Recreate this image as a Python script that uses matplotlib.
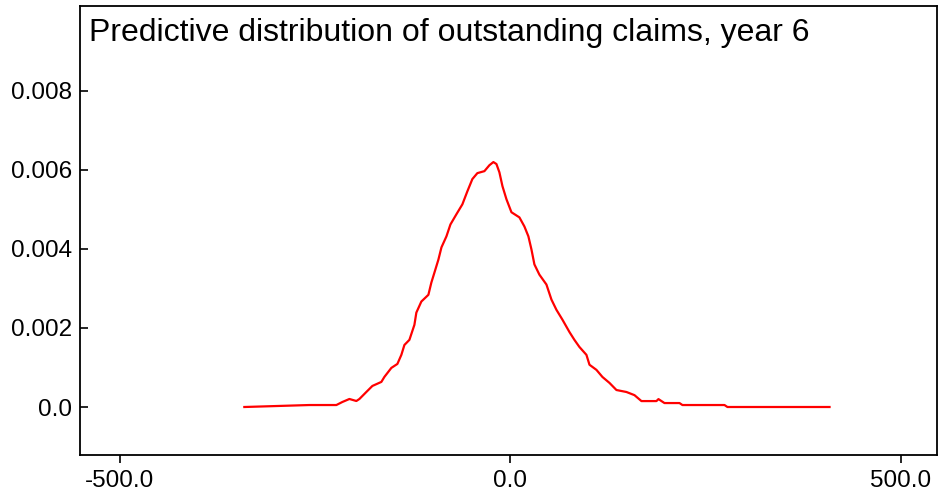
import matplotlib
matplotlib.use("Agg")
import matplotlib.pyplot as plt
from matplotlib.ticker import FixedLocator, FixedFormatter

plt.rcParams["font.family"] = ["Liberation Sans", "DejaVu Sans"]

# predictive density of outstanding claims, year 6
claims = [-340.6, -257.4, -222.8, -215.1, -206.1, -197.2, -193.3, -184.4, -176.7, -165.2,
          -161.3, -152.4, -144.7, -139.6, -135.7, -129.3, -122.9, -120.4, -114.0, -105.0,
          -101.2, -97.3, -92.2, -88.3, -81.9, -76.8, -69.1, -61.5, -55.1, -48.7,
          -42.3, -33.3, -26.9, -21.8, -17.9, -14.1, -10.2, -5.1, 1.3, 11.5,
          17.9, 23.0, 26.9, 30.7, 37.1, 46.1, 52.5, 58.9, 66.6, 75.5,
          81.9, 88.3, 97.3, 101.2, 110.1, 117.8, 126.8, 135.7, 148.5, 158.8,
          167.7, 186.9, 189.5, 197.2, 216.4, 220.2, 274.0, 277.8, 408.5]
density = [0.0, 0.00005, 0.00005, 0.000127, 0.000203, 0.000152, 0.000203, 0.000381, 0.000533, 0.000635,
           0.000762, 0.00099, 0.00109, 0.00132, 0.00157, 0.0017, 0.00208, 0.00239, 0.00267, 0.00284,
           0.00315, 0.0034, 0.00373, 0.00404, 0.00432, 0.00462, 0.00488, 0.00513, 0.00546, 0.00577,
           0.00592, 0.00597, 0.00612, 0.0062, 0.00615, 0.00594, 0.00559, 0.00526, 0.00493, 0.0048,
           0.00457, 0.00432, 0.00399, 0.00361, 0.00335, 0.0031, 0.00272, 0.00246, 0.00221, 0.0019,
           0.0017, 0.00152, 0.00132, 0.00107, 0.00094, 0.00076, 0.00061, 0.00043, 0.00038, 0.0003,
           0.00015, 0.00015, 0.0002, 0.0001, 0.0001, 0.00005, 0.00005, 0.0, 0.0]

xticks = [-500, 0, 500]
xtick_labels = ["-500.0", "0.0", "500.0"]
yticks = [0.0, 0.002, 0.004, 0.006, 0.008]
ytick_labels = ["0.0", "0.002", "0.004", "0.006", "0.008"]

fig = plt.figure(figsize=(9.43, 4.97), dpi=100)
ax = fig.add_axes([0.0848, 0.0845, 0.9088, 0.9034])
ax.plot(claims, density, color="#ff0000", lw=1.6)

ax.set_xlim(-551, 546)
ax.set_ylim(-0.001215, 0.01015)
ax.xaxis.set_major_locator(FixedLocator(xticks))
ax.xaxis.set_major_formatter(FixedFormatter(xtick_labels))
ax.yaxis.set_major_locator(FixedLocator(yticks))
ax.yaxis.set_major_formatter(FixedFormatter(ytick_labels))
ax.tick_params(axis="x", direction="out", length=6, width=1.2, labelsize=17.5, pad=5)
ax.tick_params(axis="y", direction="in", length=6, width=1.2, labelsize=17.5, pad=6)
for s in ax.spines.values():
    s.set_linewidth(1.3)

ax.text(0.011, 0.922, "Predictive distribution of outstanding claims, year 6",
        transform=ax.transAxes, ha="left", va="baseline", fontsize=23)

fig.savefig("out.png", dpi=100)
